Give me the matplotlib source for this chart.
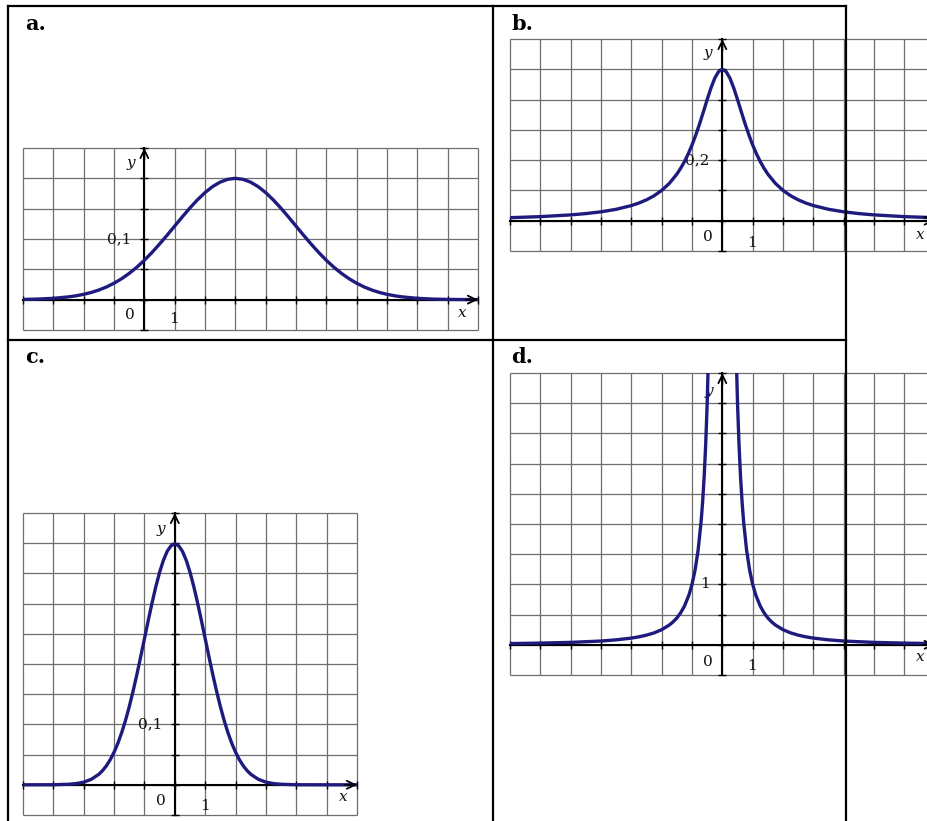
import numpy as np
import matplotlib
matplotlib.use("Agg")
import matplotlib.pyplot as plt
from matplotlib.lines import Line2D

W, H = 927, 821

# values (x in grid units, y in function units)
A_X = [-4, -3.5, -3, -2.5, -2.25, -2, -1.75, -1.5, -1.25, -1, -0.75, -0.5, -0.25,
       0, 0.25, 0.5, 0.75, 1, 1.25, 1.5, 1.75, 2, 2.25, 2.5, 2.75, 3, 3.25, 3.5,
       3.75, 4, 4.25, 4.5, 4.75, 5, 5.25, 5.5, 5.75, 6, 6.25, 6.5, 6.75, 7, 7.25,
       7.5, 7.75, 8, 8.25, 8.5, 9, 9.5, 10, 10.5, 11]
A_Y = [0.0004, 0.0010, 0.0022, 0.0046, 0.0064, 0.0088, 0.0119, 0.0159, 0.0209,
       0.0271, 0.0345, 0.0433, 0.0534, 0.0649, 0.0777, 0.0916, 0.1062, 0.1213,
       0.1364, 0.1510, 0.1645, 0.1765, 0.1864, 0.1938, 0.1984, 0.2000, 0.1984,
       0.1938, 0.1864, 0.1765, 0.1645, 0.1510, 0.1364, 0.1213, 0.1062, 0.0916,
       0.0777, 0.0649, 0.0534, 0.0433, 0.0345, 0.0271, 0.0209, 0.0159, 0.0119,
       0.0088, 0.0064, 0.0046, 0.0022, 0.0010, 0.0004, 0.0002, 0.0001]

B_X = [-7, -6, -5, -4.5, -4, -3.5, -3, -2.75, -2.5, -2.25, -2, -1.75, -1.5,
       -1.375, -1.25, -1.125, -1, -0.875, -0.75, -0.625, -0.5, -0.375, -0.25,
       -0.125, 0, 0.125, 0.25, 0.375, 0.5, 0.625, 0.75, 0.875, 1, 1.125, 1.25,
       1.375, 1.5, 1.75, 2, 2.25, 2.5, 2.75, 3, 3.5, 4, 4.5, 5, 6, 7]
B_Y = [0.0100, 0.0135, 0.0192, 0.0235, 0.0294, 0.0377, 0.0500, 0.0584, 0.0690,
       0.0825, 0.1000, 0.1231, 0.1538, 0.1730, 0.1951, 0.2207, 0.2500, 0.2832,
       0.3200, 0.3596, 0.4000, 0.4384, 0.4706, 0.4923, 0.5000, 0.4923, 0.4706,
       0.4384, 0.4000, 0.3596, 0.3200, 0.2832, 0.2500, 0.2207, 0.1951, 0.1730,
       0.1538, 0.1231, 0.1000, 0.0825, 0.0690, 0.0584, 0.0500, 0.0377, 0.0294,
       0.0235, 0.0192, 0.0135, 0.0100]

C_X = [-5, -4, -3.5, -3.25, -3, -2.75, -2.5, -2.375, -2.25, -2.125, -2, -1.875,
       -1.75, -1.625, -1.5, -1.375, -1.25, -1.125, -1, -0.875, -0.75, -0.625,
       -0.5, -0.375, -0.25, -0.125, 0, 0.125, 0.25, 0.375, 0.5, 0.625, 0.75,
       0.875, 1, 1.125, 1.25, 1.375, 1.5, 1.625, 1.75, 1.875, 2, 2.125, 2.25,
       2.375, 2.5, 2.75, 3, 3.25, 3.5, 4, 5, 6]
C_Y = [0.0, 0.0001, 0.0009, 0.0020, 0.0044, 0.0091, 0.0175, 0.0238, 0.0317,
       0.0417, 0.0540, 0.0688, 0.0863, 0.1065, 0.1295, 0.1550, 0.1826, 0.2119,
       0.2420, 0.2721, 0.3011, 0.3282, 0.3521, 0.3718, 0.3867, 0.3958, 0.3989,
       0.3958, 0.3867, 0.3718, 0.3521, 0.3282, 0.3011, 0.2721, 0.2420, 0.2119,
       0.1826, 0.1550, 0.1295, 0.1065, 0.0863, 0.0688, 0.0540, 0.0417, 0.0317,
       0.0238, 0.0175, 0.0091, 0.0044, 0.0020, 0.0009, 0.0001, 0.0, 0.0]

D_X_LEFT = [-7, -6, -5, -4, -3.5, -3, -2.75, -2.5, -2.25, -2, -1.75, -1.625,
            -1.5, -1.375, -1.25, -1.1, -1.0, -0.9, -0.8, -0.7, -0.65, -0.6,
            -0.55, -0.5, -0.45]
D_Y_LEFT = [0.020, 0.028, 0.040, 0.0625, 0.082, 0.111, 0.132, 0.160, 0.1975,
            0.250, 0.327, 0.379, 0.444, 0.529, 0.640, 0.826, 1.000, 1.235,
            1.5625, 2.041, 2.367, 2.778, 3.306, 4.000, 4.938]
D_X_RIGHT = [0.45, 0.5, 0.55, 0.6, 0.65, 0.7, 0.8, 0.9, 1.0, 1.1, 1.25, 1.375,
             1.5, 1.625, 1.75, 2, 2.25, 2.5, 2.75, 3, 3.5, 4, 5, 6, 7]
D_Y_RIGHT = [4.938, 4.000, 3.306, 2.778, 2.367, 2.041, 1.5625, 1.235, 1.000,
             0.826, 0.640, 0.529, 0.444, 0.379, 0.327, 0.250, 0.1975, 0.160,
             0.132, 0.111, 0.082, 0.0625, 0.040, 0.028, 0.020]

CURVE = "#1f1b7e"
GRID = "#6e6e6e"
SERIF = "DejaVu Serif"

fig = plt.figure(figsize=(W / 100, H / 100), dpi=100)


def px_axes(left, top, right, bottom):
    return fig.add_axes([left / W, 1 - bottom / H, (right - left) / W, (bottom - top) / H])


def panel(box, xlim, ylim, ystep, curves, labels):
    ax = px_axes(*box)
    ax.set_xlim(*xlim)
    ax.set_ylim(*ylim)
    xs = np.arange(xlim[0], xlim[1] + 0.5, 1)
    n = int(round((ylim[1] - ylim[0]) / ystep))
    ys = np.round(ylim[0] + ystep * np.arange(n + 1), 6)
    ax.vlines(xs, ylim[0], ylim[1], color=GRID, lw=0.9, zorder=1, clip_on=False)
    ax.hlines(ys, xlim[0], xlim[1], color=GRID, lw=0.9, zorder=1, clip_on=False)

    for s in ("top", "right"):
        ax.spines[s].set_visible(False)
    for s in ("left", "bottom"):
        ax.spines[s].set_position(("data", 0))
        ax.spines[s].set_linewidth(1.5)
        ax.spines[s].set_zorder(2.5)
    ax.set_xticks(xs)
    ax.set_yticks(ys)
    ax.tick_params(direction="inout", length=6, width=1.0, color="k",
                   labelbottom=False, labelleft=False)

    head = dict(arrowstyle="->,head_length=0.45,head_width=0.22", color="k",
                lw=1.3, shrinkA=0, shrinkB=0, mutation_scale=13)
    ax.annotate("", xy=(xlim[1], 0), xytext=(xlim[1] - 0.4, 0),
                arrowprops=head, annotation_clip=False, zorder=5)
    ax.annotate("", xy=(0, ylim[1]), xytext=(0, ylim[1] - 0.4 * ystep),
                arrowprops=head, annotation_clip=False, zorder=5)

    for x, y, s, ha, style in labels:
        ax.text(x, y, s, ha=ha, va="center", fontsize=11, family=SERIF,
                style=style, color="#111111", zorder=2)

    for cx, cy in curves:
        ax.plot(cx, cy, color=CURVE, lw=2.4, zorder=4, solid_capstyle="butt",
                solid_joinstyle="round")
    return ax


# a.
panel((23, 148, 478, 330), (-4, 11), (-0.05, 0.25), 0.05,
      [(A_X, A_Y)],
      [(-0.45, 0.225, "y", "center", "italic"),
       (-0.42, 0.1, "0,1", "right", "normal"),
       (-0.47, -0.025, "0", "center", "normal"),
       (0.98, -0.032, "1", "center", "normal"),
       (10.47, -0.022, "x", "center", "italic")])

# b.
panel((510, 39, 934.7, 251), (-7, 7), (-0.1, 0.6), 0.1,
      [(B_X, B_Y)],
      [(-0.47, 0.554, "y", "center", "italic"),
       (-0.42, 0.2, "0,2", "right", "normal"),
       (-0.47, -0.053, "0", "center", "normal"),
       (0.98, -0.072, "1", "center", "normal"),
       (6.52, -0.046, "x", "center", "italic")])

# c.
panel((23, 513, 357, 815), (-5, 6), (-0.05, 0.45), 0.05,
      [(C_X, C_Y)],
      [(-0.46, 0.424, "y", "center", "italic"),
       (-0.42, 0.1, "0,1", "right", "normal"),
       (-0.46, -0.026, "0", "center", "normal"),
       (0.99, -0.035, "1", "center", "normal"),
       (5.54, -0.021, "x", "center", "italic")])

# d.
panel((510, 373, 934.7, 675), (-7, 7), (-0.5, 4.5), 0.5,
      [(D_X_LEFT, D_Y_LEFT), (D_X_RIGHT, D_Y_RIGHT)],
      [(-0.44, 4.2, "y", "center", "italic"),
       (-0.42, 1.0, "1", "right", "normal"),
       (-0.47, -0.28, "0", "center", "normal"),
       (0.98, -0.35, "1", "center", "normal"),
       (6.52, -0.21, "x", "center", "italic")])

# table frame
frame = [
    (8, 6, 846, 6),
    (8, 340, 846, 340),
    (8, 6, 8, 821),
    (493, 6, 493, 821),
    (846, 6, 846, 821),
]
for x1, y1, x2, y2 in frame:
    fig.add_artist(Line2D([x1 / W, x2 / W], [1 - y1 / H, 1 - y2 / H],
                          transform=fig.transFigure, color="k", lw=1.6,
                          solid_capstyle="projecting", zorder=10))

for lx, ly, s in [(25, 30, "a."), (511, 30, "b."), (25, 363, "c."), (511, 363, "d.")]:
    fig.text(lx / W, 1 - ly / H, s, fontsize=15, fontweight="bold", family=SERIF,
             va="baseline", ha="left")

fig.savefig("out.png", dpi=100)
